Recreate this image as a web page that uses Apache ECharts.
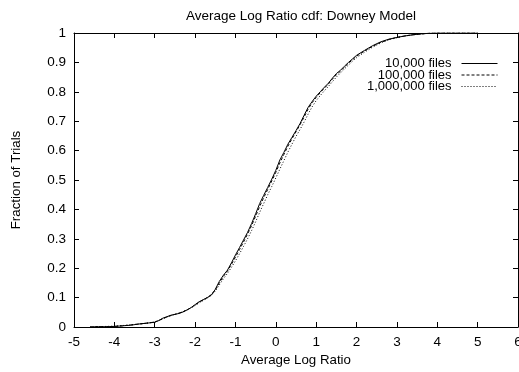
<!DOCTYPE html>
<html>
<head>
<meta charset="utf-8">
<script src="https://cdn.jsdelivr.net/npm/echarts@6/dist/echarts.min.js"></script>
<style>
  html, body { margin: 0; padding: 0; background: #fff; }
  #chart { width: 519px; height: 372px; }
</style>
</head>
<body>
<div id="chart"></div>
<script>
// x positions shared by the three cdf curves
const xs = [-4.6, -4.4, -4.2, -4.0, -3.8, -3.6, -3.4, -3.2, -3.0,
  -2.9, -2.8, -2.7, -2.6, -2.5, -2.4, -2.3, -2.2, -2.1, -2.0,
  -1.9, -1.8, -1.7, -1.6, -1.5, -1.4, -1.3, -1.2, -1.1, -1.0,
  -0.9, -0.8, -0.7, -0.6, -0.5, -0.4, -0.3, -0.2, -0.1, 0.0,
  0.1, 0.2, 0.3, 0.4, 0.5, 0.6, 0.7, 0.8, 0.9, 1.0,
  1.1, 1.2, 1.3, 1.4, 1.5, 1.6, 1.7, 1.8, 1.9, 2.0,
  2.2, 2.4, 2.6, 2.8, 3.0, 3.2, 3.4, 3.6, 3.8, 4.0,
  4.5, 5.0];

// 10,000 files (solid)
const files10k = [0, 0.001, 0.001, 0.002, 0.004, 0.006, 0.010, 0.013, 0.016,
  0.022, 0.030, 0.035, 0.040, 0.043, 0.046, 0.051, 0.058, 0.066, 0.076,
  0.086, 0.093, 0.100, 0.108, 0.128, 0.155, 0.176, 0.193, 0.218, 0.245,
  0.270, 0.296, 0.322, 0.352, 0.385, 0.420, 0.448, 0.475, 0.503, 0.533,
  0.568, 0.594, 0.622, 0.645, 0.668, 0.692, 0.720, 0.747, 0.767, 0.785,
  0.800, 0.815, 0.829, 0.846, 0.862, 0.873, 0.887, 0.900, 0.912, 0.924,
  0.941, 0.957, 0.970, 0.979, 0.985, 0.990, 0.994, 0.997, 0.999, 1.0,
  1.0, 1.0];

// 100,000 files (dashed)
const files100k = [0, 0.001, 0.001, 0.002, 0.004, 0.007, 0.010, 0.013, 0.017,
  0.022, 0.028, 0.034, 0.039, 0.043, 0.047, 0.052, 0.058, 0.066, 0.075,
  0.084, 0.092, 0.100, 0.110, 0.126, 0.150, 0.172, 0.190, 0.213, 0.238,
  0.263, 0.289, 0.316, 0.345, 0.377, 0.410, 0.440, 0.468, 0.497, 0.526,
  0.558, 0.587, 0.615, 0.640, 0.664, 0.688, 0.714, 0.741, 0.763, 0.781,
  0.797, 0.812, 0.826, 0.843, 0.858, 0.870, 0.884, 0.897, 0.909, 0.921,
  0.939, 0.955, 0.968, 0.978, 0.985, 0.990, 0.994, 0.997, 0.999, 1.0,
  1.0, 1.0];

// 1,000,000 files (dotted)
const files1m = [0, 0.001, 0.002, 0.003, 0.005, 0.007, 0.010, 0.013, 0.017,
  0.022, 0.028, 0.034, 0.039, 0.043, 0.047, 0.052, 0.058, 0.065, 0.073,
  0.082, 0.090, 0.098, 0.108, 0.122, 0.143, 0.164, 0.182, 0.203, 0.225,
  0.249, 0.274, 0.300, 0.328, 0.358, 0.390, 0.420, 0.450, 0.478, 0.507,
  0.537, 0.566, 0.595, 0.622, 0.648, 0.672, 0.697, 0.724, 0.749, 0.770,
  0.787, 0.803, 0.818, 0.834, 0.850, 0.864, 0.878, 0.891, 0.904, 0.916,
  0.935, 0.952, 0.966, 0.977, 0.984, 0.990, 0.994, 0.997, 0.999, 1.0,
  1.0, 1.0];

const seriesNames = ['10,000 files', '100,000 files', '1,000,000 files'];
const seriesValues = [files10k, files100k, files1m];
const lineTypes = ['solid', [3, 2], [1, 2]];

const font = 'Liberation Sans, Arial, sans-serif';
const chart = echarts.init(document.getElementById('chart'));

// 坐标轴共用样式
const axisLine = { show: true, onZero: false, lineStyle: { color: '#000', width: 1 } };
const axisTick = { show: true, inside: true, length: 5, lineStyle: { color: '#000' } };

const option = {
  animation: false,
  backgroundColor: '#fff',
  title: {
    text: 'Average Log Ratio cdf: Downey Model',
    left: 296,
    top: 4,
    textAlign: 'center',
    textStyle: { fontFamily: font, fontSize: 13.5, fontWeight: 'normal', color: '#000' }
  },
  legend: {
    orient: 'vertical',
    right: 16,
    top: 52,
    align: 'right',
    itemWidth: 36,
    itemHeight: 2,
    itemGap: -1.5,
    itemStyle: { color: 'rgba(0,0,0,0)', borderWidth: 0, opacity: 0 },
    lineStyle: { width: 1 },
    textStyle: { fontFamily: font, fontSize: 13, lineHeight: 12, color: '#000', padding: [0, 5, 0, 0] },
    data: seriesNames
  },
  grid: { left: 74, right: 1, top: 33, bottom: 45, show: false, outerBoundsMode: 'none', containLabel: false },
  xAxis: [
    {
      type: 'value', min: -5, max: 6, interval: 1,
      name: 'Average Log Ratio', nameLocation: 'middle', nameGap: 24,
      nameTextStyle: { fontFamily: font, fontSize: 13.3, color: '#000' },
      axisLine, axisTick,
      axisLabel: { fontFamily: font, fontSize: 13.5, color: '#000', margin: 8 },
      splitLine: { show: false }
    },
    {
      type: 'value', min: -5, max: 6, interval: 1, position: 'top',
      axisLine, axisTick, axisLabel: { show: false }, splitLine: { show: false }
    }
  ],
  yAxis: [
    {
      type: 'value', min: 0, max: 1, interval: 0.1,
      name: 'Fraction of Trials', nameLocation: 'middle', nameGap: 51,
      nameTextStyle: { fontFamily: font, fontSize: 13.3, color: '#000' },
      axisLine, axisTick,
      axisLabel: { fontFamily: font, fontSize: 13.5, color: '#000', margin: 8,
        formatter: v => String(Math.round(v * 10) / 10) },
      splitLine: { show: false }
    },
    {
      type: 'value', min: 0, max: 1, interval: 0.1, position: 'right',
      axisLine, axisTick, axisLabel: { show: false }, splitLine: { show: false }
    }
  ],
  series: seriesNames.map((name, i) => ({
    name,
    type: 'line',
    symbol: 'none',
    data: xs.map((x, j) => [x, seriesValues[i][j]]),
    lineStyle: { color: '#000', width: 1, type: lineTypes[i] },
    itemStyle: { color: '#000' }
  }))
};

chart.setOption(option);
</script>
</body>
</html>
